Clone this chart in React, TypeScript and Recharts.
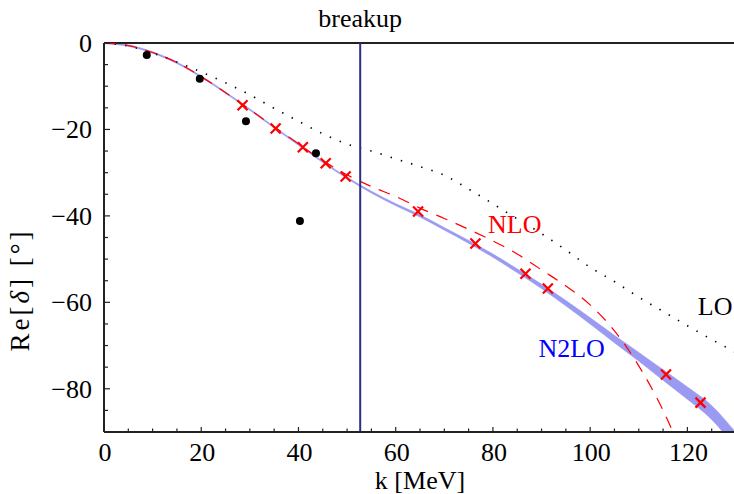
import React from 'react';
import {
  ComposedChart, Line, Area, Scatter, XAxis, YAxis, ReferenceLine, ReferenceDot,
} from 'recharts';

// ---- data ----
const kValues = [0, 5, 10, 15, 20, 25, 30, 35, 40, 45, 50, 55, 60, 65, 70, 75, 80, 85, 90, 95, 100, 105, 110, 115, 120, 125, 130];
const loValues = [0, -0.7, -2.3, -4.4, -6.7, -9.2, -12.0, -15.1, -18.1, -21.0, -23.4, -25.0, -26.8, -28.6, -30.6, -33.8, -37.2, -40.7, -44.1, -47.9, -51.9, -55.2, -58.8, -62.1, -65.4, -68.6, -71.6];
const nloValues = [0, -0.6, -2.2, -4.5, -7.8, -11.5, -15.4, -19.4, -23.3, -27.2, -30.5, -33.2, -35.5, -38.2, -40.6, -43.1, -45.8, -48.8, -52.5, -56.2, -60.6, -66.6, -74.7, -85.0, -98.0, null, null];
const n2loLow = [-0.15, -0.75, -2.35, -4.75, -7.95, -11.65, -15.55, -19.65, -23.65, -27.65, -31.35, -34.7, -37.62, -40.25, -43.28, -46.32, -49.56, -53.12, -56.8, -60.8, -65.02, -69.35, -73.6, -78.0, -82.4, -87.1, -93.8];
const n2loHigh = [0.15, -0.45, -2.05, -4.45, -7.65, -11.35, -15.25, -19.35, -23.35, -27.35, -31.05, -34.3, -37.18, -39.75, -42.72, -45.68, -48.84, -52.28, -55.8, -59.6, -63.58, -67.65, -71.6, -75.6, -79.6, -83.9, -90.2];

const dotK = [8.8, 19.7, 29.2, 40.3, 43.6];
const dotV = [-2.8, -8.3, -18.1, -41.2, -25.5];

const crossK = [28.5, 35.3, 40.9, 45.6, 49.7, 64.6, 76.4, 86.7, 91.3, 115.6, 122.7];
const crossV = [-14.4, -19.8, -24.1, -27.8, -30.9, -39.0, -46.4, -53.4, -56.8, -76.7, -83.2];

const breakupK = 52.7;

const xTicks = [0, 5, 10, 15, 20, 25, 30, 35, 40, 45, 50, 55, 60, 65, 70, 75, 80, 85, 90, 95, 100, 105, 110, 115, 120, 125, 130];
const xLabelTicks = [0, 20, 40, 60, 80, 100, 120];
const yTicks = [-90, -85, -80, -75, -70, -65, -60, -55, -50, -45, -40, -35, -30, -25, -20, -15, -10, -5, 0];
const yLabelTicks = [0, -20, -40, -60, -80];

const curveData = kValues.map((k, i) => ({
  k,
  lo: loValues[i],
  nlo: nloValues[i],
  band: [n2loLow[i], n2loHigh[i]],
}));
const dotData = dotK.map((k, i) => ({ k, v: dotV[i] }));
const crossData = crossK.map((k, i) => ({ k, v: crossV[i] }));

const FONT = 'Liberation Serif, Times New Roman, serif';
const AXIS = '#222';
const textStyle = { fontFamily: FONT };

const XTick = (props: any) => {
  const { x, y, payload } = props;
  const major = xLabelTicks.includes(payload.value);
  return (
    <g>
      <line x1={x} x2={x} y1={y} y2={y - (major ? 5 : 3.5)} stroke={AXIS} strokeWidth={1.2} />
      {major && (
        <text x={x + 1} y={y + 29} textAnchor="middle" style={textStyle} fontSize={26} fill="#000">
          {payload.value}
        </text>
      )}
    </g>
  );
};

const YTick = (props: any) => {
  const { x, y, payload } = props;
  const major = yLabelTicks.includes(payload.value);
  const v = payload.value;
  const txt = v < 0 ? '\u2212' + Math.abs(v) : String(v);
  return (
    <g>
      <line x1={x} x2={x + (major ? 6 : 4)} y1={y} y2={y} stroke={AXIS} strokeWidth={1.2} />
      {major && (
        <text x={x - 12} y={y + 9} textAnchor="end" style={textStyle} fontSize={26} fill="#000">
          {txt}
        </text>
      )}
    </g>
  );
};

const Cross = (props: any) => {
  const { cx, cy } = props;
  if (cx == null || cy == null) return null;
  const s = 5;
  return (
    <path
      d={`M${cx - s},${cy - s}L${cx + s},${cy + s}M${cx + s},${cy - s}L${cx - s},${cy + s}`}
      stroke="#ff0000"
      strokeWidth={2.2}
      fill="none"
    />
  );
};

const Dot = (props: any) => {
  const { cx, cy } = props;
  if (cx == null || cy == null) return null;
  return <circle cx={cx} cy={cy} r={4} fill="#000" />;
};

const YLabel = () => (
  <text
    x={29}
    y={290}
    transform="rotate(-90 29 290)"
    textAnchor="middle"
    style={{ fontFamily: FONT, letterSpacing: 3 }}
    fontSize={27}
    fill="#000"
  >
    Re[<tspan fontStyle="italic">δ</tspan>] [°]
  </text>
);

const labelStyle = { fontFamily: FONT, fontSize: 26 };

export default function App() {
  return (
    <div style={{ position: 'absolute', left: 0, top: 0, width: 734, height: 494, overflow: 'hidden', background: '#fff', fontFamily: FONT }}>
      <ComposedChart
        width={736}
        height={494}
        data={curveData}
        margin={{ top: 43, right: 0, bottom: 0, left: 0 }}
        style={{ fontFamily: FONT }}
      >
        <XAxis
          dataKey="k"
          type="number"
          domain={[0, 130]}
          ticks={xTicks}
          interval={0}
          allowDataOverflow
          height={62}
          tickSize={0}
          tickMargin={0}
          tick={<XTick />}
          axisLine={{ stroke: AXIS, strokeWidth: 2 }}
          label={{ value: 'k [MeV]', position: 'insideBottom', offset: 5, style: labelStyle, fill: '#000' }}
        />
        <YAxis
          type="number"
          domain={[-90, 0]}
          ticks={yTicks}
          interval={0}
          allowDataOverflow
          width={104}
          tickSize={0}
          tickMargin={0}
          tick={<YTick />}
          axisLine={{ stroke: AXIS, strokeWidth: 2 }}
          label={<YLabel />}
        />
        <ReferenceLine y={0} stroke={AXIS} strokeWidth={2} />
        <Area
          dataKey="band"
          type="monotone"
          fill="#9a9af2"
          fillOpacity={1}
          stroke="#9a9af2"
          strokeWidth={0.7}
          isAnimationActive={false}
          dot={false}
          activeDot={false}
        />
        <Line
          dataKey="lo"
          type="monotone"
          stroke="#000"
          strokeWidth={1.7}
          strokeDasharray="1.4 9.3"
          dot={false}
          activeDot={false}
          isAnimationActive={false}
        />
        <Line
          dataKey="nlo"
          type="monotone"
          stroke="#ff0000"
          strokeWidth={1.2}
          strokeDasharray="12 9"
          dot={false}
          activeDot={false}
          connectNulls={false}
          isAnimationActive={false}
        />
        <ReferenceLine
          x={breakupK}
          stroke="#2e2e8a"
          strokeWidth={2}
          label={{ value: 'breakup', position: 'top', offset: 16, style: labelStyle, fill: '#000' }}
        />
        <Scatter data={dotData} dataKey="v" shape={<Dot />} isAnimationActive={false} />
        <Scatter data={crossData} dataKey="v" shape={<Cross />} isAnimationActive={false} />
        <ReferenceDot x={84.5} y={-41.9} r={0} fill="none" stroke="none"
          label={{ value: 'NLO', position: 'center', style: labelStyle, fill: '#ff0000' }} />
        <ReferenceDot x={96.2} y={-70.6} r={0} fill="none" stroke="none"
          label={{ value: 'N2LO', position: 'center', style: labelStyle, fill: '#0000ff' }} />
        <ReferenceDot x={125.7} y={-60.9} r={0} fill="none" stroke="none"
          label={{ value: 'LO', position: 'center', style: labelStyle, fill: '#000' }} />
      </ComposedChart>
    </div>
  );
}
